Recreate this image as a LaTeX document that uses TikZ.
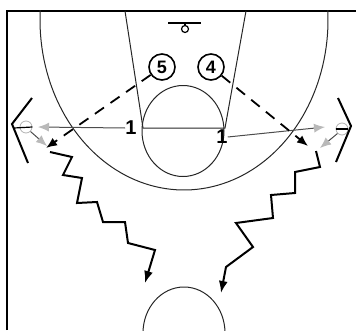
\documentclass[tikz,border=0pt]{standalone}
\usepackage{fontspec}
\setmainfont{Liberation Sans}
\usetikzlibrary{arrows.meta}

\begin{document}
\begin{tikzpicture}[x=1pt,y=-1pt,
    court/.style={line width=1pt,color=black!85},
    player/.style={circle,draw,line width=1.6pt,inner sep=0pt,minimum size=26pt,
      font=\bfseries\fontsize{18}{18}\selectfont},
    shooter/.style={inner sep=0pt,font=\bfseries\fontsize{20}{20}\selectfont},
    wingspot/.style={circle,draw=gray!60,line width=0.8pt,inner sep=0pt,minimum size=12pt},
    cone/.style={line width=2pt},
    pass/.style={line width=1.8pt,dash pattern=on 11pt off 8pt,-{Latex[length=11pt,width=9pt]}},
    outlet/.style={line width=1pt,color=black!70,-{Latex[length=11pt,width=9pt,color=gray!55]}},
    dribble/.style={line width=2pt,line join=miter,-{Latex[length=12pt,width=9pt]}}]
    \useasboundingbox (0,0) rectangle (356,330);

    % Draw frame and court
    \draw[line width=2.4pt] (7,330) -- (7,11) -- (356,11);
    \draw[court] (125,11) -- (143,128) -- (225,128) -- (246,11);
    \draw[court, domain=-3.3:183.3, samples=90]
      plot ({184+144*cos(\x)}, {20+170*sin(\x)});
    \draw[court] (183,131) ellipse [x radius=41, y radius=45.5];
    \draw[court] (184,333) ellipse [x radius=41, y radius=46];

    % Basket
    \draw[line width=1.6pt] (168,23) -- (201,23);
    \draw[line width=1.2pt] (185,23) -- (185,25.5);
    \draw[line width=1.2pt] (185,29) circle (3.5);

    % Players
    \node[player] (p5) at (162,67) {5};
    \node[player] (p4) at (211,67) {4};
    \node[shooter] (s1) at (131,128) {1};
    \node[shooter] (s2) at (222,137) {1};

    % Wing spots
    \node[wingspot] (wl) at (26,127) {};
    \node[wingspot] (wr) at (342,129) {};
    \draw[line width=1.2pt] (14,128) -- (wl.east);
    \draw[line width=1.2pt] (wr.west) -- (wr.east);
    \draw[cone] (32,98) -- (12,124) -- (28,163);
    \draw[cone] (338,98) -- (351,126) -- (336,162);

    % Outlets to the wings
    \coordinate (ol) at (38,127);
    \coordinate (or) at (325,127);
    \draw[outlet] (s1.west) -- (ol);
    \draw[outlet] (s2.east) -- (or);
    \coordinate (dl) at (47,146);
    \coordinate (dr) at (320,148);
    \draw[outlet] (wl.south east) -- (dl);
    \draw[outlet] (wr.south west) -- (dr);

    % Passes
    \coordinate (pl) at (46,148);
    \coordinate (pr) at (308,146);
    \draw[pass] (p5) -- (pl);
    \draw[pass] (p4) -- (pr);

    % Dribbles
    \coordinate (zl) at (50,152);
    \coordinate (zr) at (316,151);
    \draw[dribble] (zl) -- (72,157) -- (63,175) -- (82,178) -- (77,203) -- (97,202)
      -- (103,222) -- (125,222) -- (128,243) -- (155,250) -- (145,283);
    \draw[dribble] (zr) -- (320,167) -- (295,172) -- (295,193) -- (271,195) -- (273,218)
      -- (236,223) -- (253,247) -- (226,267) -- (221,293);

\end{tikzpicture}
\end{document}
